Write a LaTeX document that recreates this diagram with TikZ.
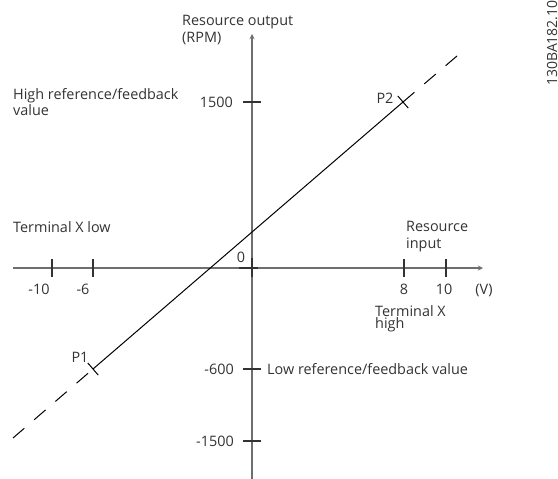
\documentclass[tikz,border=0pt]{standalone}
\usepackage{fontspec}
\setmainfont{Open Sans}
\usepackage{tikz}
\usetikzlibrary{arrows, calc}
\definecolor{dark}{HTML}{333333}
\definecolor{grey}{HTML}{6D6E71}
\tikzstyle{axis} = [draw=grey, line width=1.3pt, ->, >=stealth]
\tikzstyle{tick} = [draw=dark, line width=1.1pt]
\tikzstyle{curve} = [draw=black, line width=1pt]
\tikzstyle{dashes} = [curve, dash pattern=on 15pt off 13pt]
\tikzstyle{lbl} = [text=dark, inner sep=0pt, font=\fontsize{14.4}{17}\selectfont, align=left]
\tikzstyle{tight} = [lbl, font=\fontsize{14.4}{11.5}\selectfont]

\begin{document}
\begin{tikzpicture}[x=1pt, y=-1pt]
  \useasboundingbox (0,0) rectangle (558,479);

  \coordinate (xs) at (13,268);
  \coordinate (xe) at (483,268);
  \coordinate (ys) at (252,479);
  \coordinate (ye) at (252,34);
  \coordinate (p1) at (93,369);
  \coordinate (p2) at (403,102);
  \coordinate (lo) at (13,438);
  \coordinate (hi) at (457,56);

  \draw [axis] (xs) -- (xe);
  \draw [axis] (ys) -- (ye);

  \foreach \x in {52,93,404,446}
    \draw [tick] (\x,259) -- (\x,277);
  \foreach \y in {102,369,441}
    \draw [tick] (243,\y) -- (261,\y);
  \draw [tick, line width=1.8pt] (239,268) -- (258,268) (252,258) -- (252,277);

  \draw [curve] (p1) -- (p2);
  \draw [dashes] (p2) -- (hi);
  \draw [dashes] (lo) -- (p1);
  \draw [curve] ($(p1)!8pt!90:(p2)$) -- ($(p1)!8pt!-90:(p2)$);
  \draw [curve] ($(p2)!8pt!90:(p1)$) -- ($(p2)!8pt!-90:(p1)$);

  \node (yname) [lbl, anchor=base west] at (182,42) {Resource output\\(RPM)};
  \node (hiref) [tight, anchor=base west] at (13,115) {High reference/feedback\\value};
  \node (t1500) [lbl, anchor=base east] at (233,107) {1500};
  \node (t600) [lbl, anchor=base east] at (234,374) {-600};
  \node (tm1500) [lbl, anchor=base east] at (234,446) {-1500};
  \node (loref) [lbl, anchor=base west] at (267,374) {Low reference/feedback value};
  \node (xlow) [lbl, anchor=base west] at (13,232) {Terminal X low};
  \node (xname) [lbl, anchor=base west] at (406,248) {Resource\\input};
  \node (xhigh) [tight, anchor=base west] at (375,328) {Terminal X\\high};
  \node (zero) [lbl, anchor=base] at (241,262) {0};
  \node (tm10) [lbl, anchor=base] at (39,294) {-10};
  \node (tm6) [lbl, anchor=base] at (83,294) {-6};
  \node (t8) [lbl, anchor=base] at (404,294) {8};
  \node (t10) [lbl, anchor=base] at (444,294) {10};
  \node (volt) [lbl, anchor=base] at (484,294) {(V)};
  \node (pone) [lbl, anchor=base] at (80,362) {P1};
  \node (ptwo) [lbl, anchor=base] at (385,103) {P2};
  \node (code) [lbl, font=\fontsize{14}{17}\selectfont, rotate=90, anchor=base west] at (557,86) {130BA182.10};
\end{tikzpicture}
\end{document}
